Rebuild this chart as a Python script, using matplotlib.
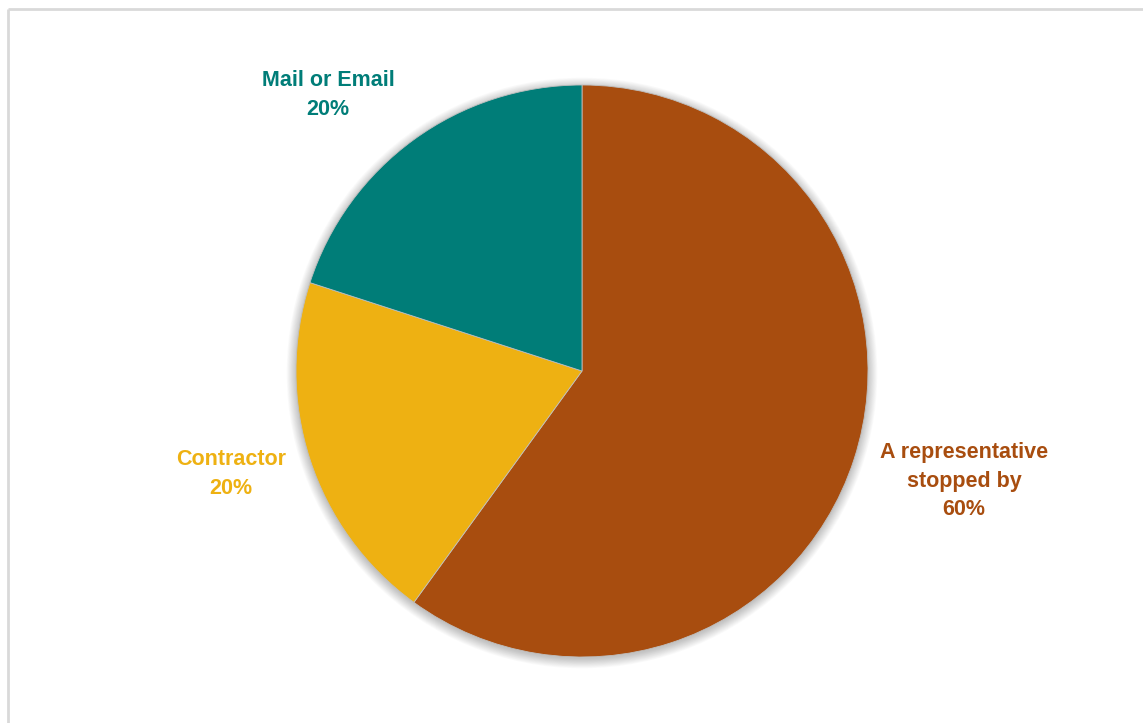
import matplotlib
matplotlib.use("Agg")
import matplotlib.pyplot as plt
from matplotlib.patches import Circle
from matplotlib import font_manager

categories = ["A representative\nstopped by", "Contractor", "Mail or Email"]
shares = [60, 20, 20]
colors = ["#A84D0F", "#EEB112", "#007D78"]

W, H = 1143, 723
fig = plt.figure(figsize=(W / 100, H / 100), dpi=100)
ax = fig.add_axes([0, 0, 1, 1])

names = {f.name for f in font_manager.fontManager.ttflist}
family = ["Liberation Sans Narrow", "DejaVu Sans"] if "Liberation Sans Narrow" in names else ["Liberation Sans", "DejaVu Sans"]

# chart frame (left and top edges)
ax.plot([8, 8], [0, H - 9], color="#d9d9d9", lw=2, solid_capstyle="butt")
ax.plot([8, W], [H - 9, H - 9], color="#d9d9d9", lw=2, solid_capstyle="butt")

cx, cy, r = 582, H - 371, 286

# soft drop shadow around the pie
for i in range(12):
    ax.add_patch(Circle((cx, cy - 2), r + i * 0.85, color="black",
                        alpha=0.02, lw=0, zorder=1))

wedges, _ = ax.pie(shares, colors=colors, startangle=90, counterclock=False,
                   center=(cx, cy), radius=r, frame=True,
                   wedgeprops=dict(edgecolor="#bfbfbf", linewidth=0.6))
for w in wedges:
    w.set_zorder(2)
ax.set_xlim(0, W)
ax.set_ylim(0, H)
ax.set_aspect("equal")
ax.axis("off")

label_pos = [(964, H - 481), (231, H - 474), (328, H - 95)]
for name, val, col, (lx, ly) in zip(categories, shares, colors, label_pos):
    ax.text(lx, ly, f"{name}\n{val}%", color=col, ha="center", va="center",
            fontsize=15.5, fontweight="bold", family=family,
            linespacing=1.45, zorder=3)

fig.savefig("out.png", dpi=100)
